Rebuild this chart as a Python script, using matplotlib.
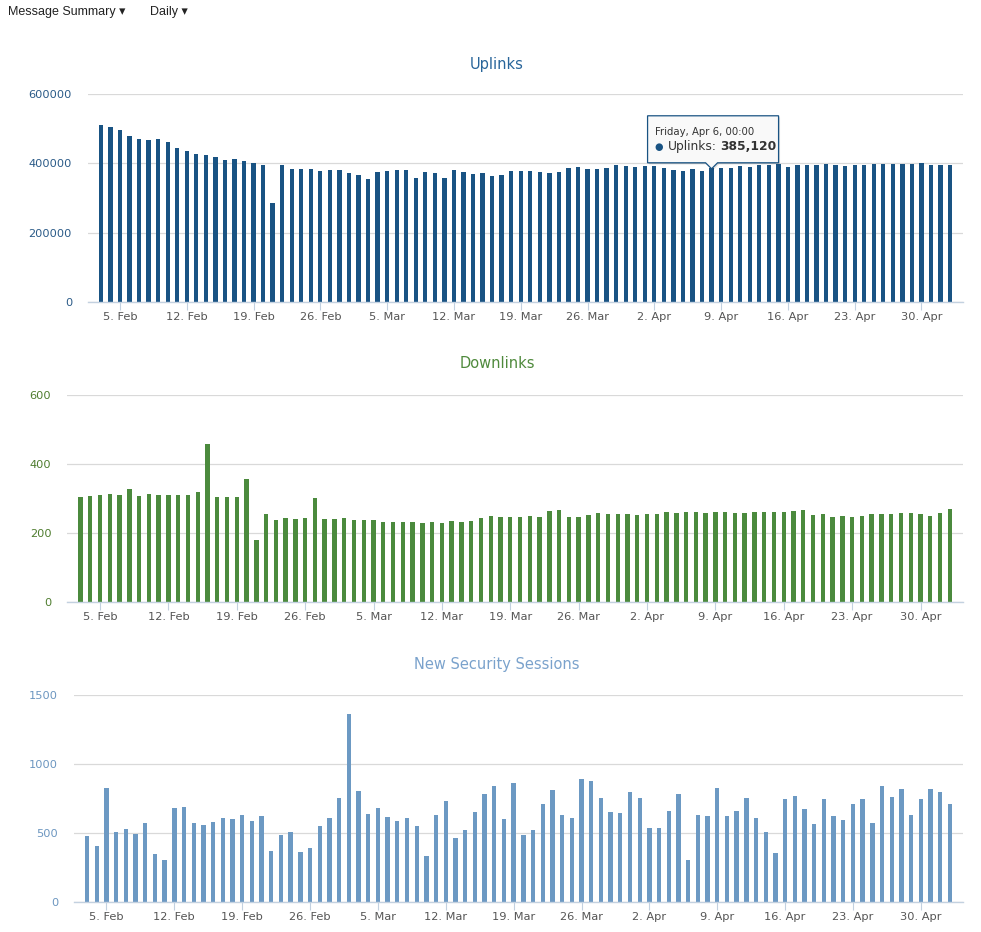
import matplotlib
matplotlib.use("Agg")
import matplotlib.pyplot as plt
import matplotlib.dates as mdates
from matplotlib.patches import Polygon
from matplotlib.transforms import IdentityTransform
from matplotlib.ticker import FixedLocator, FuncFormatter
import pandas as pd

# ---------------- data ----------------
start_date = "2018-02-03"

uplinks = [510400, 504600, 495900, 478400, 469700, 466800, 469700, 461000, 443600, 434900,
           426100, 423200, 417400, 408700, 411600, 405800, 400000, 394200, 286700, 394200,
           382600, 382600, 382600, 376700, 379600, 379600, 370900, 365100, 356400, 373800,
           376700, 379600, 379600, 359300, 373800, 370900, 359300, 379600, 373800, 368000,
           370900, 362200, 365100, 376700, 376700, 376700, 373800, 370900, 373800, 385500,
           388400, 382600, 382600, 385500, 394200, 391300, 388400, 391300, 391300, 385500,
           379600, 376700, 385120, 376700, 387400, 385500, 385500, 391300, 388400, 394200,
           394200, 397100, 388400, 394200, 394200, 394200, 397100, 394200, 391300, 394200,
           394200, 397100, 397100, 397100, 397100, 397100, 400000, 394200, 394200, 394200]

downlinks = [305, 308, 311, 314, 311, 328, 308, 314, 311, 311,
             311, 311, 319, 459, 305, 305, 305, 357, 180, 256,
             238, 244, 241, 244, 302, 241, 241, 244, 238, 238,
             238, 232, 232, 232, 232, 229, 232, 229, 235, 232,
             235, 244, 250, 247, 247, 247, 250, 247, 264, 267,
             247, 247, 253, 258, 256, 256, 256, 253, 256, 256,
             261, 258, 261, 261, 258, 261, 261, 258, 258, 261,
             261, 261, 261, 264, 267, 253, 256, 247, 250, 247,
             250, 256, 256, 256, 258, 258, 256, 250, 258, 270]

sessions = [479, 406, 827, 508, 530, 493, 573, 348, 305, 682,
            689, 573, 559, 581, 610, 602, 631, 588, 624, 370,
            486, 508, 363, 392, 552, 610, 755, 1364, 806, 639,
            682, 617, 588, 610, 552, 334, 631, 733, 464, 522,
            653, 784, 842, 602, 864, 486, 522, 711, 813, 631,
            610, 893, 878, 755, 653, 646, 798, 755, 537, 537,
            660, 784, 305, 631, 624, 827, 624, 660, 755, 610,
            508, 356, 747, 769, 675, 566, 747, 624, 595, 711,
            747, 573, 842, 762, 820, 631, 747, 820, 798, 711]

titles = ["Uplinks", "Downlinks", "New Security Sessions"]
y_ticks = [[0, 200000, 400000, 600000], [0, 200, 400, 600], [0, 500, 1000, 1500]]
tooltip_date_label = "Friday, Apr 6, 00:00"
tooltip_series = "Uplinks"
tooltip_value = "385,120"
tooltip_anchor_index = 64

dates = pd.date_range(start_date, periods=len(uplinks))
xnum = mdates.date2num(dates.to_pydatetime())

# ---------------- style ----------------
bar_colors = ["#195383", "#4b8a3d", "#6c99c3"]
title_colors = ["#28659a", "#4f8a3c", "#7aa2cc"]
ylabel_colors = ["#2b5b88", "#4f7d2f", "#6c96c0"]
grid_color = "#d9d9d9"
axis_color = "#c3d1e0"
xlabel_color = "#555555"

W, H = 981, 932
fig = plt.figure(figsize=(W / 100, H / 100), dpi=100)
fig.patch.set_facecolor("white")

# axes rectangles in pixels: left, right, top, bottom
rects = [(88, 963, 94.3, 301.7), (67.3, 963, 395, 602), (74, 963, 695, 902)]
title_y = [64, 364, 664]
series = [uplinks, downlinks, sessions]

axes = []
for i, (vals, (l, r, t, b)) in enumerate(zip(series, rects)):
    ax = fig.add_axes([l / W, (H - b) / H, (r - l) / W, (b - t) / H])
    ax.bar(xnum, vals, width=0.45, color=bar_colors[i], zorder=2)
    ax.set_xlim(xnum[0] - 1.35, xnum[-1] + 1.35)
    ax.set_ylim(y_ticks[i][0], y_ticks[i][-1])
    ax.yaxis.set_major_locator(FixedLocator(y_ticks[i]))
    ax.yaxis.set_major_formatter(FuncFormatter(lambda v, p: f"{int(v)}"))
    ax.yaxis.grid(True, color=grid_color, lw=0.9, zorder=0)
    ax.set_axisbelow(True)
    for s in ["top", "right", "left"]:
        ax.spines[s].set_visible(False)
    ax.spines["bottom"].set_color(axis_color)
    ax.spines["bottom"].set_linewidth(1.0)
    ax.spines["bottom"].set_zorder(3)
    ax.tick_params(axis="y", length=0, pad=11.5, labelsize=8.2, labelcolor=ylabel_colors[i])
    ax.xaxis.set_major_locator(mdates.WeekdayLocator(byweekday=mdates.MO))
    ax.xaxis.set_major_formatter(FuncFormatter(
        lambda v, p: f"{mdates.num2date(v).day}. {mdates.num2date(v):%b}"))
    ax.tick_params(axis="x", length=6, width=0.8, color=axis_color, pad=1.5,
                   labelsize=8.2, labelcolor=xlabel_color)
    for lab in ax.get_yticklabels() + ax.get_xticklabels():
        lab.set_family("DejaVu Sans")
    fig.text(497 / W, 1 - title_y[i] / H, titles[i], ha="center", va="center",
             fontsize=10.5, color=title_colors[i], family="DejaVu Sans")
    axes.append(ax)

# ---------------- header ----------------
fig.text(8 / W, 1 - 12 / H, "Message Summary \u25BE", ha="left", va="center",
         fontsize=9, color="#222222", family=["Liberation Sans", "DejaVu Sans"])
fig.text(150 / W, 1 - 12 / H, "Daily \u25BE", ha="left", va="center",
         fontsize=9, color="#222222", family=["Liberation Sans", "DejaVu Sans"])

# ---------------- tooltip ----------------
ax = axes[0]
tx, ty = ax.transData.transform((xnum[tooltip_anchor_index], uplinks[tooltip_anchor_index]))
ty = ty - 1
L, R = tx - 64, tx + 67
B, T = ty + 6, ty + 53
pts = [(L, B), (tx - 6, B), (tx, ty), (tx + 6, B), (R, B), (R, T), (L, T)]
shadow = Polygon([(x + 1.5, y - 1.5) for x, y in pts], closed=True, transform=IdentityTransform(),
                 facecolor="black", edgecolor="none", alpha=0.12, zorder=10)
box = Polygon(pts, closed=True, transform=IdentityTransform(), facecolor="#f9f9f9",
              edgecolor=bar_colors[0], linewidth=0.9, zorder=11)
fig.add_artist(shadow)
fig.add_artist(box)
fig.text((L + 7) / W, (T - 16) / H, tooltip_date_label, ha="left", va="center",
         fontsize=7.3, color="#333333", family="DejaVu Sans", zorder=12)
fig.text((L + 7) / W, (T - 31.5) / H, "\u25CF", ha="left", va="center",
         fontsize=7, color=bar_colors[0], family="DejaVu Sans", zorder=12)
fig.text((L + 20) / W, (T - 31) / H, f"{tooltip_series}:", ha="left", va="center",
         fontsize=8.8, color="#333333", family="DejaVu Sans", zorder=12)
fig.text((L + 73) / W, (T - 31) / H, tooltip_value, ha="left", va="center",
         fontsize=8.8, color="#333333", family="DejaVu Sans", weight="bold", zorder=12)

fig.savefig("out.png", dpi=100)
